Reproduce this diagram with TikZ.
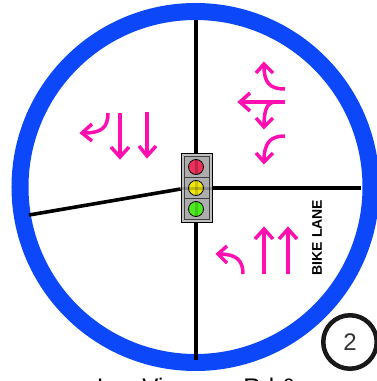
\documentclass[tikz,border=0pt]{standalone}
\usepackage{fontspec}
\setmainfont{Liberation Sans}
\definecolor{ringblue}{RGB}{12,72,250}
\definecolor{arrowpink}{RGB}{255,15,175}
\definecolor{lampred}{RGB}{238,48,90}
\definecolor{lampyel}{RGB}{240,230,10}
\definecolor{lampgrn}{RGB}{75,235,30}
\tikzset{
 px/.style={x=1pt,y=-1pt},
 road/.style={draw=black,line width=3.6pt},
 pink/.style={draw=arrowpink,line width=3.5pt,line cap=butt},
 head/.style={draw=arrowpink,line width=3.5pt,line join=miter,line cap=butt},
 lamp/.style={circle,draw=black,line width=0.8pt,minimum size=15pt,inner sep=0pt},
 cell/.style={draw=black!75,fill=black!32,line width=0.7pt,minimum width=25pt,minimum height=21pt,inner sep=0pt},
}
\begin{document}
\begin{tikzpicture}[px]
\useasboundingbox (0,0) rectangle (376,381);
\fill[white] (0,0) rectangle (376,381);
\draw[ringblue,line width=17pt] (195.5,187) circle (175.5);
\coordinate (n) at (196,20);
\coordinate (s) at (196,360);
\coordinate (e) at (361,188);
\coordinate (w) at (29,215);
\node[draw=black,fill=black!25,line width=0.8pt,minimum width=31pt,minimum height=69pt,inner sep=0pt] (housing) at (196.5,187.5) {};
\draw[road] (n) -- (housing.north -| n);
\draw[road] (s) -- (housing.south -| s);
\draw[road] (e) -- (housing.east |- e);
\draw[road] (w) -- (housing.west |- 0,189);
\node[cell] (c1) at (196.5,166.5) {};
\node[cell] (c2) at (196.5,187.5) {};
\node[cell] (c3) at (196.5,208.5) {};
\node[lamp,fill=lampred] (red) at (196,167) {};
\node[lamp,fill=lampyel] (yel) at (196,188) {};
\node[lamp,fill=lampgrn] (grn) at (196,209) {};
\fill[black,opacity=.2] (194.5,160) rectangle (197.5,174);
\fill[black,opacity=.15] (194.5,181) rectangle (197.5,195);
\fill[black,opacity=.15] (194.5,202) rectangle (197.5,216);
\fill[black,opacity=.2] (181.5,186.5) rectangle (211.5,189.5);
% west bound group
\draw[pink] (108,113) .. controls (108,128) and (101,133) .. (84,133);
\draw[head] (92,124) -- (82,133) -- (92,141);
\draw[pink] (120,113) -- (120,156);
\draw[head] (111,147) -- (120,157) -- (129,147);
\draw[pink] (147,112) -- (147,155);
\draw[head] (139,146) -- (147,156) -- (156,146);
% right-top
\draw[pink] (285,89) .. controls (270,89) and (264,83) .. (264,66);
\draw[head] (256,73) -- (264,64) -- (273,73);
\draw[pink] (285,102) -- (241,102);
\draw[head] (250,93) -- (240,102) -- (250,111);
\draw[pink] (273,102) .. controls (267,104) and (264,110) .. (264,126);
\draw[head] (256,118) -- (264,127) -- (273,118);
\draw[pink] (285,136) .. controls (271,136) and (264,142) .. (264,161);
\draw[head] (256,153) -- (264,162) -- (273,153);
% bottom right
\draw[pink] (243,274) .. controls (243,260) and (236,254) .. (219,254);
\draw[head] (227,246) -- (218,254) -- (227,263);
\draw[pink] (264,274) -- (264,230);
\draw[head] (255,239) -- (264,229) -- (273,239);
\draw[pink] (288,274) -- (288,230);
\draw[head] (279,239) -- (288,229) -- (297,239);
\node[rotate=90,font=\bfseries\fontsize{14}{16}\selectfont] (bike) at (317,237.5) {BIKE LANE};
\node[circle,draw=black!90,line width=4.5pt,minimum size=53.5pt,inner sep=0pt,font=\fontsize{24}{28}\selectfont,text=black!80] (two) at (350,342) {2};
\node[anchor=base,font=\fontsize{24}{28}\selectfont] (cap) at (197,395) {Las Virgenes Rd \&};
\end{tikzpicture}
\end{document}
